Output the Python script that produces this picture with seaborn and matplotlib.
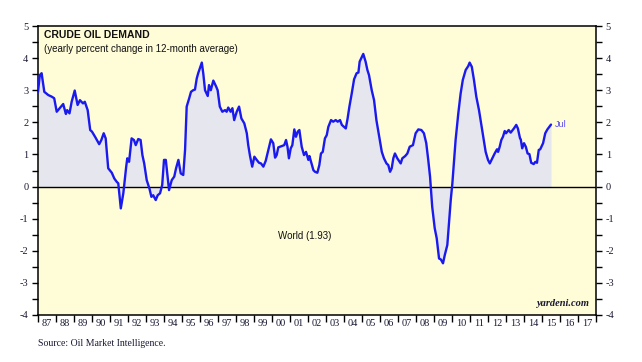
import numpy as np
import pandas as pd
import matplotlib
matplotlib.use("Agg")
import matplotlib.pyplot as plt
from matplotlib.ticker import FixedLocator, NullFormatter, FixedFormatter, MultipleLocator
import seaborn as sns

# ---- data ----
years = [
    1987.0, 1987.1, 1987.2, 1987.35, 1987.57, 1987.76, 1987.9, 1988.04, 1988.3, 1988.4,
    1988.55, 1988.62, 1988.75, 1988.87, 1989.04, 1989.2, 1989.33, 1989.5, 1989.6, 1989.76,
    1989.9, 1990.0, 1990.17, 1990.4, 1990.52, 1990.65, 1990.76, 1990.9, 1991.1, 1991.24,
    1991.37, 1991.46, 1991.6, 1991.74, 1991.9, 1991.96, 1992.06, 1992.2, 1992.33, 1992.43,
    1992.57, 1992.7, 1992.8, 1992.9, 1993.04, 1993.19, 1993.3, 1993.4, 1993.54, 1993.65,
    1993.78, 1993.9, 1994.0, 1994.1, 1994.2, 1994.28, 1994.43, 1994.57, 1994.67, 1994.8,
    1994.93, 1995.07, 1995.17, 1995.26, 1995.4, 1995.5, 1995.62, 1995.72, 1995.82, 1995.9,
    1996.1, 1996.18, 1996.28, 1996.43, 1996.5, 1996.6, 1996.74, 1996.9, 1996.98, 1997.1,
    1997.24, 1997.39, 1997.48, 1997.57, 1997.7, 1997.8, 1997.9, 1998.04, 1998.17, 1998.3,
    1998.46, 1998.6, 1998.68, 1998.78, 1998.9, 1999.02, 1999.15, 1999.28, 1999.39, 1999.52,
    1999.65, 1999.8, 1999.94, 2000.07, 2000.17, 2000.26, 2000.35, 2000.54, 2000.68, 2000.78,
    2000.86, 2000.94, 2001.04, 2001.13, 2001.24, 2001.33, 2001.43, 2001.52, 2001.65, 2001.78,
    2001.89, 2002.02, 2002.08, 2002.17, 2002.3, 2002.39, 2002.52, 2002.63, 2002.72, 2002.82,
    2002.94, 2003.04, 2003.13, 2003.28, 2003.4, 2003.54, 2003.65, 2003.78, 2003.88, 2004.0,
    2004.1, 2004.2, 2004.3, 2004.43, 2004.56, 2004.7, 2004.8, 2004.87, 2005.07, 2005.2,
    2005.3, 2005.39, 2005.54, 2005.67, 2005.8, 2005.94, 2006.1, 2006.22, 2006.36, 2006.46,
    2006.56, 2006.65, 2006.74, 2006.83, 2006.96, 2007.15, 2007.24, 2007.4, 2007.52, 2007.65,
    2007.83, 2007.98, 2008.13, 2008.3, 2008.44, 2008.57, 2008.68, 2008.78, 2008.9, 2009.04,
    2009.15, 2009.28, 2009.38, 2009.5, 2009.6, 2009.74, 2009.83, 2009.93, 2010.02, 2010.1,
    2010.2, 2010.35, 2010.48, 2010.6, 2010.76, 2010.9, 2010.98, 2011.1, 2011.22, 2011.35,
    2011.5, 2011.63, 2011.74, 2011.87, 2012.0, 2012.1, 2012.24, 2012.37, 2012.5, 2012.56,
    2012.65, 2012.74, 2012.83, 2012.93, 2013.0, 2013.15, 2013.26, 2013.44, 2013.57, 2013.66,
    2013.78, 2013.82, 2013.9, 2014.0, 2014.1, 2014.2, 2014.3, 2014.4, 2014.54, 2014.63,
    2014.72, 2014.82, 2014.9, 2015.06, 2015.18, 2015.3, 2015.5,
]
demand = [
    2.95, 3.47, 3.53, 2.95, 2.85, 2.80, 2.75, 2.33, 2.50, 2.57,
    2.26, 2.38, 2.28, 2.64, 2.99, 2.54, 2.69, 2.59, 2.64, 2.38,
    1.76, 1.71, 1.55, 1.32, 1.45, 1.66, 1.50, 0.57, 0.43, 0.25,
    0.15, 0.10, -0.68, -0.21, 0.62, 0.88, 0.77, 1.50, 1.45, 1.29,
    1.48, 1.45, 0.98, 0.72, 0.20, -0.06, -0.32, -0.27, -0.42, -0.27,
    -0.21, 0.05, 0.83, 0.83, 0.31, -0.11, 0.20, 0.31, 0.57, 0.83,
    0.41, 0.36, 1.14, 2.49, 2.75, 2.95, 3.00, 3.02, 3.37, 3.53,
    3.86, 3.53, 3.00, 2.82, 3.16, 3.00, 3.30, 3.11, 3.00, 2.49,
    2.33, 2.38, 2.33, 2.46, 2.33, 2.44, 2.07, 2.33, 2.49, 2.12,
    1.97, 1.66, 1.29, 0.95, 0.62, 0.93, 0.83, 0.74, 0.72, 0.62,
    0.80, 1.14, 1.47, 1.35, 0.90, 0.98, 1.22, 1.26, 1.29, 1.45,
    1.24, 0.88, 1.19, 1.29, 1.78, 1.55, 1.71, 1.76, 1.24, 0.98,
    1.08, 0.83, 0.95, 0.77, 0.51, 0.46, 0.43, 0.67, 1.03, 1.08,
    1.50, 1.60, 1.86, 2.07, 2.02, 2.07, 2.02, 2.07, 1.92, 1.86,
    1.81, 2.12, 2.49, 2.90, 3.34, 3.53, 3.55, 3.89, 4.13, 3.89,
    3.63, 3.47, 3.00, 2.69, 2.07, 1.60, 1.08, 0.88, 0.72, 0.67,
    0.46, 0.57, 0.88, 1.03, 0.88, 0.72, 0.88, 0.95, 1.03, 1.24,
    1.29, 1.66, 1.78, 1.76, 1.66, 1.35, 0.83, 0.31, -0.63, -1.30,
    -1.61, -2.24, -2.27, -2.39, -2.13, -1.82, -1.15, -0.42, 0.10, 0.72,
    1.45, 2.28, 2.90, 3.32, 3.63, 3.75, 3.86, 3.73, 3.32, 2.80,
    2.38, 1.92, 1.55, 1.08, 0.83, 0.72, 0.88, 1.03, 1.16, 1.08,
    1.24, 1.45, 1.55, 1.73, 1.66, 1.76, 1.68, 1.81, 1.92, 1.81,
    1.50, 1.47, 1.19, 1.35, 1.24, 1.03, 1.01, 0.74, 0.70, 0.77,
    0.74, 1.14, 1.16, 1.35, 1.66, 1.78, 1.93,
]
year_labels = ["87", "88", "89", "90", "91", "92", "93", "94", "95", "96", "97",
               "98", "99", "00", "01", "02", "03", "04", "05", "06", "07", "08",
               "09", "10", "11", "12", "13", "14", "15", "16", "17"]
last_label = "Jul"
series_label = "World (1.93)"

df = pd.DataFrame({"year": years, "demand": demand})

sns.set_style("white")
plt.rcParams["font.family"] = ["Liberation Sans", "DejaVu Sans"]
plt.rcParams["axes.unicode_minus"] = False

fig = plt.figure(figsize=(6.42, 3.62), dpi=100)
ax = fig.add_axes([38 / 642, 47 / 362, 558 / 642, 289 / 362])
ax.set_facecolor("#fffcd8")

ax.fill_between(df["year"], df["demand"], 0, color="#e6e6ef", linewidth=0, zorder=1)
ax.axhline(0, color="black", lw=1.0, zorder=2)
sns.lineplot(data=df, x="year", y="demand", ax=ax, color="#1a1aee", lw=1.7, zorder=3)

ax.set_xlim(1987, 2018)
ax.set_ylim(-4, 5)
ax.set_xlabel("")
ax.set_ylabel("")

for s in ax.spines.values():
    s.set_visible(True)
    s.set_color("black")
    s.set_linewidth(1.1)

# x ticks: year boundaries (marks), labels centered in each year
ax.xaxis.set_major_locator(FixedLocator(np.arange(1987, 2019)))
ax.xaxis.set_major_formatter(NullFormatter())
ax.xaxis.set_minor_locator(FixedLocator(np.arange(1987, 2018) + 0.5))
ax.xaxis.set_minor_formatter(FixedFormatter(year_labels))
ax.tick_params(axis="x", which="major", direction="out", length=5, width=1, color="black", bottom=True)
ax.tick_params(axis="x", which="minor", length=0, pad=3, labelsize=7.5, bottom=True)

ax.yaxis.set_major_locator(MultipleLocator(1))
ax.yaxis.set_minor_locator(MultipleLocator(0.5))
ax.tick_params(axis="y", which="both", direction="out", length=4, width=1, color="black",
               left=True, right=True, labelleft=True, labelright=True, labelsize=7.5, pad=3)

for lab in ax.get_xticklabels(minor=True) + ax.get_yticklabels():
    lab.set_family(["Liberation Serif", "DejaVu Serif"])
    lab.set_color("#1a1a33")

# annotations
ax.text(0.0108, 0.968, "CRUDE OIL DEMAND", transform=ax.transAxes,
        fontsize=7.5, fontweight="bold", va="center", ha="left", color="#111111")
ax.text(0.0108, 0.922, "(yearly percent change in 12-month average)", transform=ax.transAxes,
        fontsize=7, va="center", ha="left", color="#111111")
ax.text(df["year"].iloc[-1] + 0.2, df["demand"].iloc[-1], last_label,
        fontsize=6.5, color="#5a4cf0", va="center", ha="left")
ax.text(2001.8, -1.55, series_label, fontsize=7, color="#111111", va="center", ha="center")
ax.text(0.988, 0.025, "yardeni.com", transform=ax.transAxes, fontsize=7.5,
        fontweight="bold", fontstyle="italic", family=["Liberation Serif", "DejaVu Serif"],
        ha="right", va="bottom", color="#1a1a33")
fig.text(38 / 642, 1 - 343 / 362, "Source: Oil Market Intelligence.", fontsize=7,
         family=["Liberation Serif", "DejaVu Serif"], ha="left", va="center", color="#1a1a33")

fig.savefig("out.png", dpi=100, facecolor="white")
